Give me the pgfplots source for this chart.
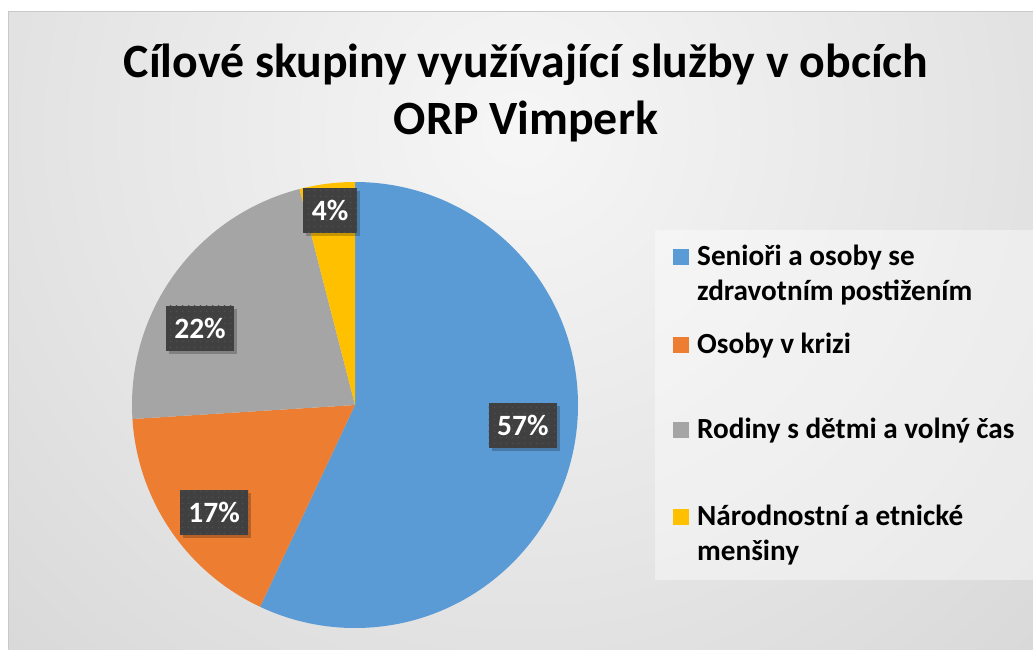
\documentclass[border=0pt]{standalone}
\usepackage{pgfplots}
\pgfplotsset{compat=1.18}
\usepackage{pgfplotstable}
\usepackage{fontspec}
\setmainfont{Carlito}
\usetikzlibrary{shadows,patterns.meta}

\definecolor{pie0}{HTML}{5B9BD5}
\definecolor{pie1}{HTML}{ED7D31}
\definecolor{pie2}{HTML}{A5A5A5}
\definecolor{pie3}{HTML}{FFC000}
\definecolor{boxc}{HTML}{404040}
\definecolor{dotc}{HTML}{505050}
\definecolor{bg0}{HTML}{F6F6F6}
\definecolor{bg1}{HTML}{E6E6E6}
\definecolor{bg2}{HTML}{CECECE}
\definecolor{bg3}{HTML}{C3C3C3}
\definecolor{frame}{HTML}{C8C8C8}

\pgfdeclareradialshading{bgshade}{\pgfpointorigin}{color(0bp)=(bg0); color(13bp)=(bg1); color(31bp)=(bg2); color(44bp)=(bg3); color(50bp)=(bg3)}

\tikzdeclarepattern{
  name=boxdots,
  type=uncolored,
  bounding box={(0pt,0pt) and (6pt,6pt)},
  tile size={(6pt,6pt)},
  code={\fill (3pt,3pt) circle (0.9pt);}
}

% value in percent, label position (axis units, radius = 1)
\pgfplotstableread[col sep=comma]{
value,lx,ly
57,0.753,-0.090
17,-0.632,-0.480
22,-0.695,0.345
4,-0.112,0.874
}\piedata

\begin{document}
\begin{tikzpicture}
\useasboundingbox (0pt,0pt) rectangle (1033pt,649pt);
\fill[white] (0pt,0pt) rectangle (1033pt,649pt);
\begin{scope}
  \clip (8pt,0pt) rectangle (1033pt,637pt);
  \shade[shading=bgshade] (520pt,520pt) circle (800pt);
\end{scope}
\draw[frame, line width=1pt] (8pt,0pt) -- (8pt,637pt) -- (1033pt,637pt);

% title
\node[anchor=base, font=\fontsize{47.8}{58}\selectfont\bfseries] at (526pt,571pt) {Cílové skupiny využívající služby v obcích};
\node[anchor=base, font=\fontsize{47.8}{58}\selectfont\bfseries] at (526pt,514pt) {ORP Vimperk};

% legend
\fill[white, opacity=0.4] (655pt,69pt) rectangle (1033pt,419pt);
\begin{scope}[font=\fontsize{29.2}{35}\selectfont\bfseries]
  \fill[pie0] (673pt,384pt) rectangle (689pt,400pt);
  \node[anchor=base west, inner sep=0pt] at (697pt,384pt) {Senioři a osoby se};
  \node[anchor=base west, inner sep=0pt] at (697pt,349pt) {zdravotním postižením};
  \fill[pie1] (673pt,296pt) rectangle (689pt,312pt);
  \node[anchor=base west, inner sep=0pt] at (697pt,296pt) {Osoby v krizi};
  \fill[pie2] (673pt,211pt) rectangle (689pt,227pt);
  \node[anchor=base west, inner sep=0pt] at (697pt,211pt) {Rodiny s dětmi a volný čas};
  \fill[pie3] (673pt,124pt) rectangle (689pt,140pt);
  \node[anchor=base west, inner sep=0pt] at (697pt,124pt) {Národnostní a etnické};
  \node[anchor=base west, inner sep=0pt] at (697pt,89pt) {menšiny};
\end{scope}

% cumulative angles (clockwise from 12 o'clock)
\gdef\cumsum{0}
\foreach \i in {0,...,3}{
  \pgfplotstablegetelem{\i}{value}\of\piedata
  \edef\pV{\pgfplotsretval}
  \pgfplotstablegetelem{\i}{lx}\of\piedata
  \edef\pLX{\pgfplotsretval}
  \pgfplotstablegetelem{\i}{ly}\of\piedata
  \edef\pLY{\pgfplotsretval}
  \pgfmathsetmacro\pA{90-3.6*\cumsum}
  \pgfmathsetmacro\pNew{\cumsum+\pV}
  \pgfmathsetmacro\pB{90-3.6*\pNew}
  \expandafter\xdef\csname pieA\i\endcsname{\pA}
  \expandafter\xdef\csname pieB\i\endcsname{\pB}
  \expandafter\xdef\csname pieV\i\endcsname{\pV}
  \expandafter\xdef\csname pieLX\i\endcsname{\pLX}
  \expandafter\xdef\csname pieLY\i\endcsname{\pLY}
  \xdef\cumsum{\pNew}
}

\begin{axis}[
  at={(355pt,244pt)}, anchor=center,
  width=446pt, height=446pt, scale only axis,
  hide axis, clip=false,
  xmin=-1, xmax=1, ymin=-1, ymax=1,
]
\addplot[draw=none] coordinates {(0,0)};
\pgfplotsinvokeforeach{0,...,3}{
  \fill[pie#1] (axis cs:0,0) -- ++(\csname pieA#1\endcsname:223pt)
    arc[start angle=\csname pieA#1\endcsname, end angle=\csname pieB#1\endcsname, radius=223pt] -- cycle;
}
\pgfplotsinvokeforeach{0,...,3}{
  \node[fill=boxc, text=white, font=\fontsize{29.5}{35}\selectfont\bfseries,
        minimum height=45pt, inner xsep=8.5pt, inner ysep=0pt,
        drop shadow={opacity=0.22, shadow xshift=3pt, shadow yshift=-3pt, fill=black},
        postaction={pattern={boxdots}, pattern color=dotc}]
    at (axis cs:\csname pieLX#1\endcsname,\csname pieLY#1\endcsname) {\csname pieV#1\endcsname\%};
}
\end{axis}
\end{tikzpicture}
\end{document}
